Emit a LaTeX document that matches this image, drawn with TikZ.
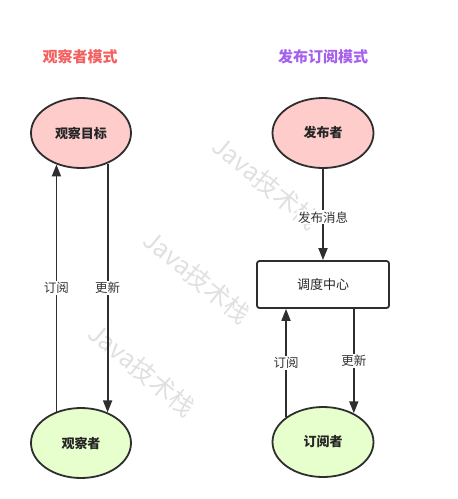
\documentclass[tikz,border=0pt]{standalone}
\usepackage{fontspec}
\usepackage{xcolor}
\usepackage{tikz}
\newfontfamily\cjk{Noto Sans CJK SC}
\usetikzlibrary{arrows.meta, positioning, shapes.geometric}

\definecolor{pinkfill}{HTML}{FFCCCC}
\definecolor{limefill}{HTML}{E6FFCC}
\definecolor{obsred}{HTML}{F2605F}
\definecolor{pubviolet}{HTML}{A660EE}
\definecolor{inkline}{HTML}{2E2E2E}

\begin{document}
\begin{tikzpicture}[
  x=1pt, y=-1pt,
  every node/.style={font=\cjk},
  role/.style={ellipse, draw=inkline, line width=1.8pt, minimum width=100pt,
    minimum height=70pt, inner sep=0pt, font=\cjk\bfseries\fontsize{13}{15}\selectfont, text=black!85},
  hub/.style={rectangle, rounded corners=2.5pt, draw=inkline, line width=1.8pt,
    minimum width=132pt, minimum height=47pt, font=\cjk\fontsize{13}{15}\selectfont, text=black!85},
  flow/.style={draw=inkline, line width=1.8pt, -{Triangle[length=12pt,width=9pt]}},
  tag/.style={fill=white, inner sep=1pt, font=\cjk\fontsize{12.5}{14}\selectfont, text=black!80},
  headline/.style={font=\cjk\bfseries\fontsize{15}{17}\selectfont},
  wmark/.style={rotate=-39.5, text=black!12, font=\cjk\fontsize{25}{27}\selectfont}
]
\useasboundingbox (0,0) rectangle (458,499);
% watermark behind everything
\foreach \wx/\wy [count=\i] in {266/183, 197/277, 142/370}
  \node[wmark] (wm\i) at (\wx,\wy) {Java技术栈};
% Titles
\node[headline, text=obsred] (obstitle) at (80,57) {观察者模式};
\node[headline, text=pubviolet] (pubtitle) at (323,57) {发布订阅模式};
% Observer pattern (left)
\node[role, fill=pinkfill] (subject) at (81,133) {观察目标};
\node[role, fill=limefill] (observer) at (81,443) {观察者};
\draw[flow] (observer.128) -- node[tag] {订阅} (subject.232);
\draw[flow] (subject.311) -- node[tag] {更新} (observer.49);
% Publish/subscribe pattern (right)
\node[role, fill=pinkfill, minimum width=101pt] (publisher) at (323,133) {发布者};
\node[hub] (broker) at (323,284.5) {调度中心};
\node[role, fill=limefill, minimum width=101pt] (subscriber) at (323,442) {订阅者};
\draw[flow] (publisher.south) -- node[tag, pos=0.53] {发布消息} (broker.north);
\draw[flow] (subscriber.146) -- node[tag] {订阅} (subscriber.146 |- broker.south);
\draw[flow] (broker.south -| subscriber.43) -- node[tag] {更新} (subscriber.43);
\end{tikzpicture}
\end{document}
